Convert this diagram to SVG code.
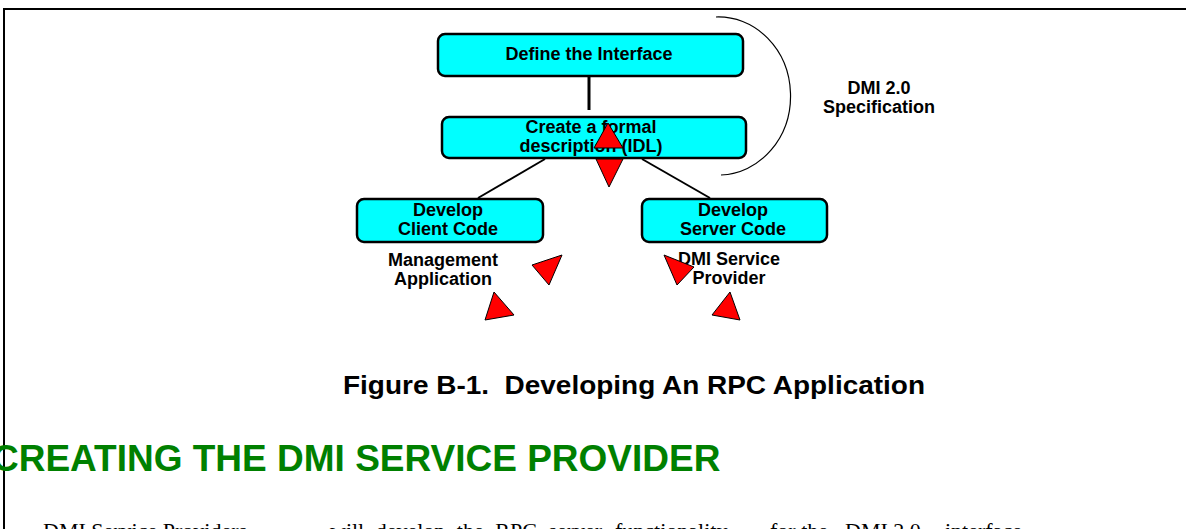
<svg xmlns="http://www.w3.org/2000/svg" width="1186" height="529" viewBox="0 0 1186 529">
<defs>
<style>
.box{fill:#00FFFF;stroke:#000;stroke-width:2.5}
.lbl{font-family:"Liberation Sans",Arial,sans-serif;font-weight:bold;font-size:18px;fill:#000;text-anchor:middle}
.tri{fill:#FF0000;stroke:#000;stroke-width:1}
.conn{stroke:#000;fill:none}
</style>
</defs>
<rect width="1186" height="529" fill="#fff"/>
<g id="frame">
<line x1="3" y1="9" x2="1186" y2="9" stroke="#000" stroke-width="2"/>
<line x1="4" y1="8" x2="4" y2="529" stroke="#000" stroke-width="2"/>
</g>
<g id="connectors">
<line class="conn" x1="589" y1="76" x2="589" y2="110" stroke-width="3"/>
<line class="conn" x1="545" y1="159" x2="478" y2="198" stroke-width="2"/>
<line class="conn" x1="642" y1="159" x2="710" y2="198" stroke-width="2"/>
<path class="conn" d="M716,17 A72,79 0 0,1 721,175" stroke-width="1.2"/>
</g>
<g id="node-define">
<rect class="box" x="438" y="34" width="305" height="42" rx="7"/>
<text class="lbl" x="589" y="60">Define the Interface</text>
</g>
<g id="node-idl">
<rect class="box" x="442" y="117" width="304" height="41" rx="7"/>
<text class="lbl" x="591" y="133">Create a formal</text>
<text class="lbl" x="591" y="152">description (IDL)</text>
</g>
<g id="node-client">
<rect class="box" x="357" y="199" width="186" height="43" rx="7"/>
<text class="lbl" x="448" y="216">Develop</text>
<text class="lbl" x="448" y="235">Client Code</text>
</g>
<g id="node-server">
<rect class="box" x="642" y="199" width="185" height="43" rx="7"/>
<text class="lbl" x="733" y="216">Develop</text>
<text class="lbl" x="733" y="235">Server Code</text>
</g>
<g id="label-mgmt">
<text class="lbl" x="443" y="266">Management</text>
<text class="lbl" x="443" y="285">Application</text>
</g>
<g id="label-dmisp">
<text class="lbl" x="729" y="265">DMI Service</text>
<text class="lbl" x="729" y="284">Provider</text>
</g>
<g id="label-spec">
<text class="lbl" x="879" y="94">DMI 2.0</text>
<text class="lbl" x="879" y="113">Specification</text>
</g>
<g id="triangles">
<polygon class="tri" points="608,123 594,148 623,148"/>
<polygon class="tri" points="596,159 623,159 609,187"/>
<polygon class="tri" points="562,255 532,265 549,285"/>
<polygon class="tri" points="494,292 485,320 514,315"/>
<polygon class="tri" points="664,255 694,267 677,285"/>
<polygon class="tri" points="730,292 712,315 740,320"/>
</g>
<g id="caption">
<text x="343" y="394" xml:space="preserve" font-family="'Liberation Sans',Arial,sans-serif" font-weight="bold" font-size="26" textLength="582" lengthAdjust="spacingAndGlyphs">Figure B-1.  Developing An RPC Application</text>
</g>
<g id="heading">
<text x="-8" y="471" font-family="'Liberation Sans',Arial,sans-serif" font-weight="bold" font-size="37" fill="#008000">CREATING THE DMI SERVICE PROVIDER</text>
</g>
<g id="body">
<text y="538" font-family="'Liberation Serif','Times New Roman',serif" font-size="22" fill="#000"><tspan x="43">DMI Service Providers</tspan><tspan x="330" word-spacing="6">will develop the RPC server</tspan><tspan x="615">functionality</tspan><tspan x="770">for the</tspan><tspan x="845">DMI 2.0</tspan><tspan x="945">interface</tspan></text>
</g>
</svg>
